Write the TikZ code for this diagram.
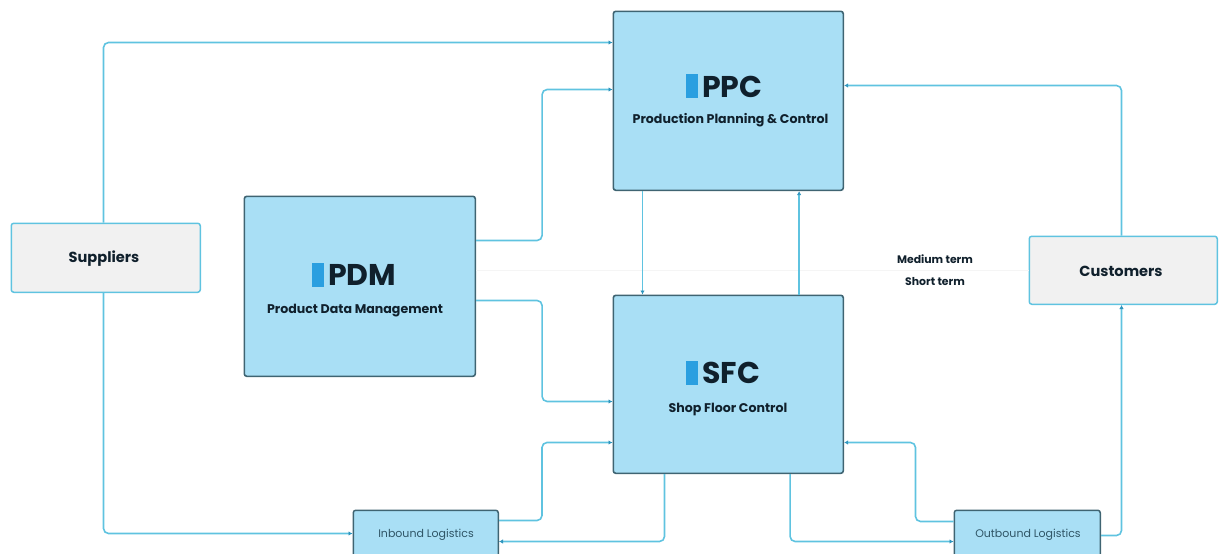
\documentclass[tikz,border=0pt]{standalone}
\usepackage{fontspec}
\setmainfont{Poppins}
\usetikzlibrary{arrows.meta}
\definecolor{boxfill}{HTML}{A9DFF5}
\definecolor{boxline}{HTML}{3F6472}
\definecolor{greyfill}{HTML}{F1F1F1}
\definecolor{conn}{HTML}{5FC3E0}
\definecolor{tip}{HTML}{2F95BE}
\definecolor{barblue}{HTML}{2A9FE0}
\definecolor{ink}{HTML}{10202C}
\definecolor{inksoft}{HTML}{2F5566}
\tikzset{
  x=1pt,y=-1pt,
  bigbox/.style={draw=boxline,fill=boxfill,line width=1.6pt,rounded corners=2.5pt,minimum width=230pt,minimum height=179pt,anchor=north west,inner sep=0pt},
  smallbox/.style={draw=boxline,fill=boxfill,line width=1.5pt,rounded corners=2.5pt,minimum width=145pt,minimum height=60pt,anchor=north west,inner sep=0pt},
  greybox/.style={draw=conn,fill=greyfill,line width=1.5pt,rounded corners=2.5pt,minimum width=189pt,anchor=north west,inner sep=0pt},
  conline/.style={draw=conn,line width=1.6pt,rounded corners=5pt,-{Latex[length=4pt,width=4.5pt,color=tip]}},
  bigt/.style={font=\fontsize{30}{32}\selectfont\bfseries,text=ink,inner sep=0pt,anchor=west},
  subt/.style={font=\fontsize{12.6}{14}\selectfont\bfseries,text=ink,inner sep=0pt},
  greyt/.style={font=\fontsize{14.6}{16}\selectfont\bfseries,text=ink,inner sep=0pt},
  smallt/.style={font=\fontsize{11}{12}\selectfont,text=inksoft,inner sep=0pt},
  termt/.style={font=\fontsize{10.9}{12}\selectfont\bfseries,text=ink,inner sep=0pt},
  barmark/.style={fill=barblue,draw=none,minimum width=12pt,minimum height=24pt,inner sep=0pt}
}
\begin{document}
\begin{tikzpicture}
\useasboundingbox (0,0) rectangle (1219,554);
\clip (0,0) rectangle (1219,554);
% nodes
\node[bigbox] (ppc) at (612.5,10.5) {};
\node[bigbox,minimum height=178pt] (sfc) at (612.5,294.5) {};
\node[bigbox,minimum width=231pt,minimum height=180pt] (pdm) at (243.5,195.5) {};
\node[greybox,minimum height=69pt] (sup) at (10.5,222.5) {};
\node[greybox,minimum width=188pt,minimum height=68pt] (cus) at (1028.5,235.5) {};
\node[smallbox] (inb) at (352.5,509.5) {};
\node[smallbox,minimum width=146pt] (outb) at (953.5,509.5) {};
% faint rule
\draw[draw=black!4,line width=0.8pt] ([yshift=-75pt]pdm.north east) -- ([yshift=-35pt]cus.north west);
% connectors
\draw[conline] ([xshift=93pt]sup.north west) |- ([yshift=-32pt]ppc.north west);
\draw[conline] ([xshift=93pt]sup.south west) |- ([yshift=-24pt]inb.north west);
\draw[conline] ([yshift=-45pt]pdm.north east) -- ++(66,0) |- ([yshift=-79pt]ppc.north west);
\draw[conline] ([yshift=-105pt]pdm.north east) -- ++(66,0) |- ([yshift=-107pt]sfc.north west);
\draw[conline] ([xshift=30pt]ppc.south west) -- ([xshift=30pt]sfc.north west);
\draw[conline] ([xshift=-45pt]sfc.north east) -- ([xshift=-45pt]ppc.south east);
\draw[conline] ([xshift=93pt]cus.north west) |- ([yshift=-75pt]ppc.north east);
\draw[conline] ([yshift=-26pt]outb.north east) -| ([xshift=93pt]cus.south west);
\draw[conline] ([yshift=-12pt]outb.north west) -- ++(-38,0) |- ([yshift=-148pt]sfc.north east);
\draw[conline] ([xshift=-54pt]sfc.south east) |- ([yshift=-32pt]outb.north west);
\draw[conline] ([yshift=-11pt]inb.north east) -- ++(43,0) |- ([yshift=-148pt]sfc.north west);
\draw[conline] ([xshift=52pt]sfc.south west) |- ([yshift=-32pt]inb.north east);
% labels
\node[barmark] (barppc) at (692,86) {};
\node[bigt] (tppc) at (702,87) {PPC};
\node[subt] (sppc) at (730.5,120.5) {Production Planning \& Control};
\node[barmark] (barpdm) at (318,275) {};
\node[bigt] (tpdm) at (328,275) {PDM};
\node[subt] (spdm) at (355,311) {Product Data Management};
\node[barmark] (barsfc) at (692,373) {};
\node[bigt] (tsfc) at (702,373) {SFC};
\node[subt] (ssfc) at (728,410) {Shop Floor Control};
\node[greyt] (tsup) at (104,259) {Suppliers};
\node[greyt] (tcus) at (1121,271) {Customers};
\node[smallt] (tinb) at (426,535) {Inbound Logistics};
\node[smallt] (toutb) at (1028,535) {Outbound Logistics};
\node[termt] (tmed) at (935,259) {Medium term};
\node[termt] (tsho) at (935,282) {Short term};
\end{tikzpicture}
\end{document}
